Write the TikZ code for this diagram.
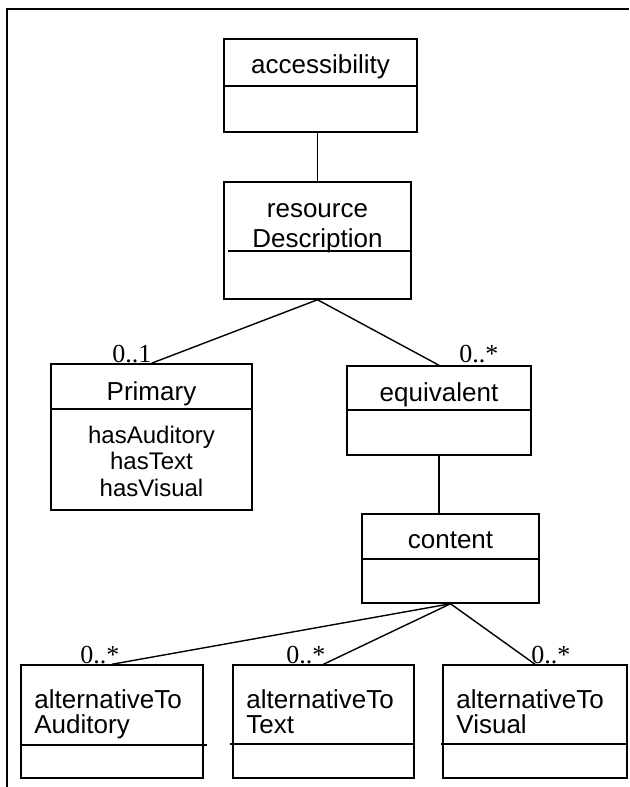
\documentclass[tikz,border=0pt]{standalone}
\usepackage{fontspec}
\setmainfont{Liberation Sans}
\newfontfamily\multfont{Liberation Serif}
\usetikzlibrary{fit}

\tikzset{
  classbox/.style={draw, line width=0.75pt, inner sep=0pt},
  compart/.style={line width=0.75pt},
  assoc/.style={line width=0.7pt},
  classname/.style={inner sep=0pt, anchor=base, font=\fontsize{13}{15}\selectfont},
  attrib/.style={inner sep=0pt, anchor=base, font=\fontsize{12}{14}\selectfont},
  mult/.style={inner sep=0pt, anchor=base west, font=\multfont\fontsize{13}{15}\selectfont},
}

\begin{document}
\begin{tikzpicture}[x=0.5pt, y=-0.5pt]
  \useasboundingbox (0,0) rectangle (629,787);
  % Page frame, cut off on the right and at the bottom.
  \draw[line width=0.85pt] (629,9) -- (7,9) -- (7,787);
  % Class boxes.
  \node[classbox, fit={(224,39) (417,132)}]  (access)  {};
  \node[classbox, fit={(224,182) (411,299)}] (resdesc) {};
  \node[classbox, fit={(51,364) (252,510)}]  (primary) {};
  \node[classbox, fit={(347,366) (531,455)}] (equiv)   {};
  \node[classbox, fit={(362,514) (539,603)}] (content) {};
  \foreach \name/\xa/\xb in {altaud/21/203, alttext/233/414, altvis/443/627}
    \node[classbox, fit={(\xa,665) (\xb,778)}] (\name) {};
  % Compartment lines.
  \draw[compart] (access.west |- 0,86) -- (access.east |- 0,86);
  \draw[compart] (228,251) -- (resdesc.east |- 0,251);
  \draw[compart] (primary.west |- 0,409) -- (primary.east |- 0,409);
  \draw[compart] (equiv.west |- 0,410) -- (equiv.east |- 0,410);
  \draw[compart] (content.west |- 0,559) -- (content.east |- 0,559);
  \draw[compart] (altaud.west |- 0,745) -- (207,745);
  \draw[compart] (230,744) -- (alttext.east |- 0,744);
  \draw[compart] (441,744) -- (altvis.east |- 0,744);
  % Class names.
  \node[classname] (accessname)  at (access.north |- 0,73)   {accessibility};
  \node[classname] (resname)     at (resdesc.north |- 0,217) {resource};
  \node[classname] (descname)    at (resdesc.north |- 0,247) {Description};
  \node[classname] (primaryname) at (primary.north |- 0,400) {Primary};
  \node[classname] (equivname)   at (equiv.north |- 0,401)   {equivalent};
  \node[classname] (contentname) at (content.north |- 0,548) {content};
  \foreach \name/\xa/\word in {altaud/21/Auditory, alttext/233/Text, altvis/443/Visual} {
    \node[classname, anchor=base west] (\name top) at ({\xa+13},708) {alternativeTo};
    \node[classname, anchor=base west] (\name bot) at ({\xa+13},733) {\word};
  }
  % Attributes of Primary.
  \foreach \y/\attr in {443/hasAuditory, 469/hasText, 496/hasVisual}
    \node[attrib] (\attr) at (primary.north |- 0,\y) {\attr};
  % Associations.
  \draw[assoc] (access.south -| resdesc.north) -- (resdesc.north);
  \draw[assoc] (resdesc.south) -- (primary.north);
  \draw[assoc] (resdesc.south) -- (equiv.north);
  \draw[assoc] (equiv.south) -- (equiv.south |- content.north);
  \foreach \name in {altaud, alttext, altvis}
    \draw[assoc] (content.south) -- (\name.north);
  % Multiplicities.
  \node[mult] (multprimary) at (112,362) {0..1};
  \node[mult] (multequiv)   at (459,362) {0..*};
  \node[mult] (multaud)     at (80,663)  {0..*};
  \node[mult] (multtext)    at (286,663) {0..*};
  \node[mult] (multvis)     at (531,663) {0..*};
\end{tikzpicture}
\end{document}
